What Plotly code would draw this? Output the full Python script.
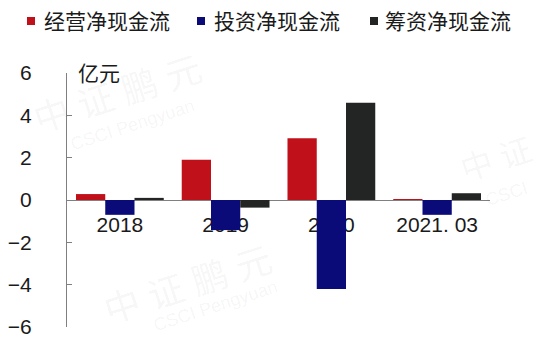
import plotly.graph_objects as go

# Net cash flow by period, in 100 million yuan (亿元)
periods = ["2018", "2019", "2020", "2021. 03"]
operating = [0.28, 1.9, 2.92, 0.02]
investing = [-0.7, -1.42, -4.2, -0.7]
financing = [0.1, -0.36, 4.6, 0.32]

series_names = ["经营净现金流", "投资净现金流", "筹资净现金流"]
series_colors = ["#C0101A", "#0A0A78", "#222523"]

font_family = "Liberation Sans, Arial, Noto Sans CJK SC, sans-serif"

W, H = 544, 338
ML, MR, MT, MB = 67, 54, 73, 11
PW, PH = W - ML - MR, H - MT - MB


def px(x):
    """pixel column -> paper x"""
    return (x - ML) / PW


def py(y):
    """pixel row -> paper y"""
    return (H - MB - y) / PH


fig = go.Figure()
for name, vals, color in zip(series_names, [operating, investing, financing], series_colors):
    fig.add_trace(go.Bar(
        x=periods, y=vals, name=name, showlegend=False,
        marker=dict(color=color, line=dict(width=0)),
    ))

# faint brand watermark
wm_color = "rgba(0,0,0,0.05)"
for (x, y, txt, s) in [(118, 95, "中 证 鹏 元", 36), (188, 285, "中 证 鹏 元", 36),
                       (496, 160, "中 证", 32)]:
    fig.add_annotation(x=px(x), y=py(y), xref="paper", yref="paper", text=txt,
                       showarrow=False, textangle=-18, xanchor="center", yanchor="middle",
                       font=dict(size=s, color=wm_color, family=font_family))
for (x, y, txt) in [(132, 125, "CSCI Pengyuan"), (215, 306, "CSCI Pengyuan"), (506, 194, "CSCI")]:
    fig.add_annotation(x=px(x), y=py(y), xref="paper", yref="paper", text=txt,
                       showarrow=False, textangle=-18, xanchor="center", yanchor="middle",
                       font=dict(size=18, color=wm_color, family=font_family))

# legend row: small square + series name
legend_square_x = [27, 197, 370]
legend_text_x = [42, 212, 383]
for name, color, sx, tx in zip(series_names, series_colors, legend_square_x, legend_text_x):
    fig.add_shape(type="rect", xref="paper", yref="paper",
                  x0=px(sx), x1=px(sx + 8), y0=py(25), y1=py(17),
                  fillcolor=color, line=dict(width=0))
    fig.add_annotation(x=px(tx), y=py(22), xref="paper", yref="paper", text=name,
                       showarrow=False, xanchor="left", yanchor="middle",
                       font=dict(size=21, color="#1a1a1a", family=font_family))

# unit label
fig.add_annotation(x=0, y=6, xref="paper", yref="y", text="亿元", showarrow=False,
                   xanchor="left", yanchor="middle", xshift=9,
                   font=dict(size=21, color="#1a1a1a", family=font_family))

fig.update_layout(
    width=W, height=H,
    margin=dict(l=ML, r=MR, t=MT, b=MB, autoexpand=False),
    paper_bgcolor="white", plot_bgcolor="white",
    barmode="group", bargap=0.17, bargroupgap=0,
    font=dict(family=font_family, size=21, color="#1a1a1a"),
    showlegend=False,
)

fig.update_xaxes(
    type="category", anchor="free", position=0.5,
    showline=True, linecolor="#808080", linewidth=1,
    ticks="", ticklabelstandoff=6, layer="below traces",
    showgrid=False, zeroline=False,
    tickfont=dict(size=21, color="#1a1a1a"),
)
fig.update_yaxes(
    range=[-6, 6], tickvals=[-6, -4, -2, 0, 2, 4, 6],
    ticktext=["\u22126", "\u22124", "\u22122", "0", "2", "4", "6"],
    showline=True, linecolor="#808080", linewidth=1,
    ticks="inside", ticklen=5, tickcolor="#808080",
    ticklabelstandoff=30, ticklabeloverflow="allow",
    showgrid=False, zeroline=False,
    tickfont=dict(size=21, color="#1a1a1a"),
)

fig.write_html("out.html")
